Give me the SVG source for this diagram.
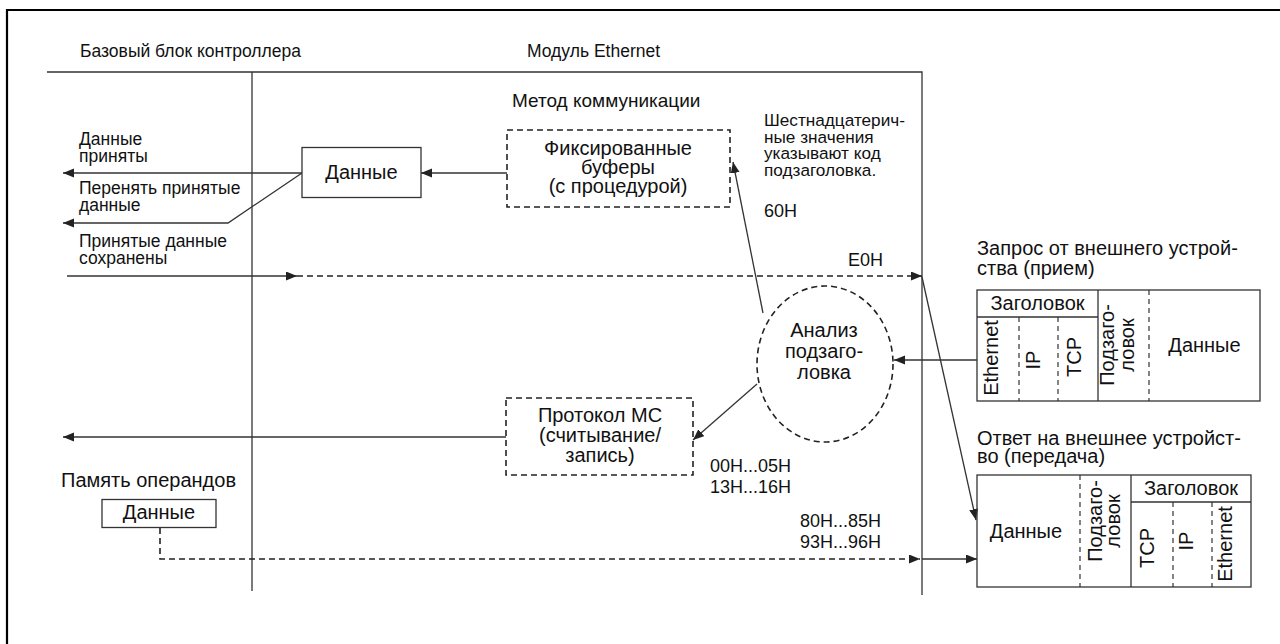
<svg xmlns="http://www.w3.org/2000/svg" width="1280" height="644" viewBox="0 0 1280 644">
  <style>
    text { font-family: "Liberation Sans", Arial, sans-serif; fill: #111; }
    .lbl { font-size: 17.5px; }
    .mid { font-size: 19px; }
    .note { font-size: 17.2px; }
    .hex { font-size: 18px; }
    .big { font-size: 20px; }
    .c { text-anchor: middle; }
    .ln { stroke: #333; stroke-width: 1.3; fill: none; }
    .dash { stroke: #222; stroke-width: 1.6; fill: none; stroke-dasharray: 6 4; }
    .box { stroke: #333; stroke-width: 1.3; fill: #fff; }
    .tbl { stroke: #333; stroke-width: 1.3; fill: none; }
    .tdash { stroke: #333; stroke-width: 1.2; fill: none; stroke-dasharray: 5 4; }
    .frame { stroke: #000; stroke-width: 2.2; fill: none; }
  </style>
  <defs>
    <marker id="arr" markerUnits="userSpaceOnUse" markerWidth="12" markerHeight="10" refX="11" refY="4.5" orient="auto">
      <path d="M0,0 L11,4.5 L0,9 Z" fill="#222"/>
    </marker>
  </defs>

  <rect width="1280" height="644" fill="#fff"/>
  <path class="frame" d="M7,644 V10 H1280"/>

  <!-- section headings and borders -->
  <g id="sections">
    <text class="lbl" x="80" y="57">Базовый блок контроллера</text>
    <text class="lbl" x="527" y="57">Модуль Ethernet</text>
    <path class="ln" d="M47,72 H922 V595"/>
    <path class="ln" d="M252,72 V591"/>
    <text class="mid" x="512" y="107">Метод коммуникации</text>
    <text class="note" x="764" y="126">Шестнадцатерич-</text>
    <text class="note" x="764" y="142.5">ные значения</text>
    <text class="note" x="764" y="159">указывают код</text>
    <text class="note" x="764" y="175.5">подзаголовка.</text>
  </g>

  <!-- connectors -->
  <g id="connectors">
    <path class="ln" d="M302,173 H63" marker-end="url(#arr)"/>
    <path class="ln" d="M507,173 H421" marker-end="url(#arr)"/>
    <path class="ln" d="M302,173 L228,223 H63" marker-end="url(#arr)"/>
    <path class="ln" d="M67,276 H297" marker-end="url(#arr)"/>
    <path class="dash" d="M297,276 H922" marker-end="url(#arr)"/>
    <path class="ln" d="M763,313 L733,162" marker-end="url(#arr)"/>
    <path class="ln" d="M922,277 L976,520" marker-end="url(#arr)"/>
    <path class="ln" d="M977,360 H894" marker-end="url(#arr)"/>
    <path class="ln" d="M757,384 L693,440" marker-end="url(#arr)"/>
    <path class="ln" d="M506,437 H63" marker-end="url(#arr)"/>
    <path class="dash" d="M160,528 V559 H920" marker-end="url(#arr)"/>
    <path class="ln" d="M922,559 H977" marker-end="url(#arr)"/>
  </g>

  <!-- edge labels -->
  <g id="labels">
    <text class="lbl" x="79" y="145">Данные</text>
    <text class="lbl" x="79" y="162">приняты</text>
    <text class="lbl" x="79" y="194">Перенять принятые</text>
    <text class="lbl" x="79" y="211">данные</text>
    <text class="lbl" x="79" y="247">Принятые данные</text>
    <text class="lbl" x="79" y="264">сохранены</text>
    <text class="hex" x="764" y="217">60H</text>
    <text class="hex" x="848" y="266">E0H</text>
    <text class="hex" x="710" y="472">00H...05H</text>
    <text class="hex" x="710" y="493">13H...16H</text>
    <text class="hex" x="800" y="527">80H...85H</text>
    <text class="hex" x="800" y="548">93H...96H</text>
  </g>

  <g id="data-box">
    <rect class="box" x="302" y="147.5" width="119" height="50"/>
    <text class="big c" x="361.5" y="179">Данные</text>
  </g>

  <g id="fixed-buffers">
    <rect class="dash" x="507" y="130" width="223" height="77"/>
    <text class="big c" x="618" y="155">Фиксированные</text>
    <text class="big c" x="618" y="174">буферы</text>
    <text class="big c" x="618" y="193">(с процедурой)</text>
  </g>

  <g id="subheader-analysis">
    <ellipse class="dash" cx="825" cy="364" rx="68" ry="78"/>
    <text class="big c" x="824" y="337">Анализ</text>
    <text class="big c" x="824" y="358">подзаго-</text>
    <text class="big c" x="824" y="379">ловка</text>
  </g>

  <g id="mc-protocol">
    <rect class="dash" x="506" y="398" width="187" height="77"/>
    <text class="big c" x="600" y="422">Протокол МС</text>
    <text class="big c" x="600" y="442">(считывание/</text>
    <text class="big c" x="600" y="462">запись)</text>
  </g>

  <g id="operand-memory">
    <text class="big" x="61" y="487">Память операндов</text>
    <rect class="box" x="102" y="499.5" width="114" height="28"/>
    <text class="big c" x="159" y="519">Данные</text>
  </g>

  <!-- incoming frame layout -->
  <g id="request-frame">
    <text class="big" x="977" y="255">Запрос от внешнего устрой-</text>
    <text class="big" x="977" y="275">ства (прием)</text>
    <rect class="tbl" x="977" y="290" width="283" height="111"/>
    <path class="tbl" d="M977,317 H1098 M1098,290 V401"/>
    <path class="tdash" d="M1019,317 V401 M1058,317 V401 M1149,290 V401"/>
    <text class="big c" x="1037.5" y="310">Заголовок</text>
    <text class="big c" transform="translate(998,358) rotate(-90)">Ethernet</text>
    <text class="big c" transform="translate(1040,360) rotate(-90)">IP</text>
    <text class="big c" transform="translate(1081,357) rotate(-90)">TCP</text>
    <text class="big c" transform="translate(1114,345) rotate(-90)">Подзаго-</text>
    <text class="big c" transform="translate(1134,345) rotate(-90)">ловок</text>
    <text class="big c" x="1204.5" y="352">Данные</text>
  </g>

  <!-- outgoing frame layout -->
  <g id="response-frame">
    <text class="big" x="977" y="445">Ответ на внешнее устройст-</text>
    <text class="big" x="977" y="463">во (передача)</text>
    <rect class="tbl" x="977" y="475" width="274" height="112"/>
    <path class="tbl" d="M1131,475 V587 M1131,502 H1251"/>
    <path class="tdash" d="M1080,475 V587 M1173,502 V587 M1212,502 V587"/>
    <text class="big c" x="1191" y="495">Заголовок</text>
    <text class="big c" x="1026" y="538">Данные</text>
    <text class="big c" transform="translate(1102,521) rotate(-90)">Подзаго-</text>
    <text class="big c" transform="translate(1120,521) rotate(-90)">ловок</text>
    <text class="big c" transform="translate(1154,548) rotate(-90)">TCP</text>
    <text class="big c" transform="translate(1193,541) rotate(-90)">IP</text>
    <text class="big c" transform="translate(1232,544) rotate(-90)">Ethernet</text>
  </g>
</svg>
